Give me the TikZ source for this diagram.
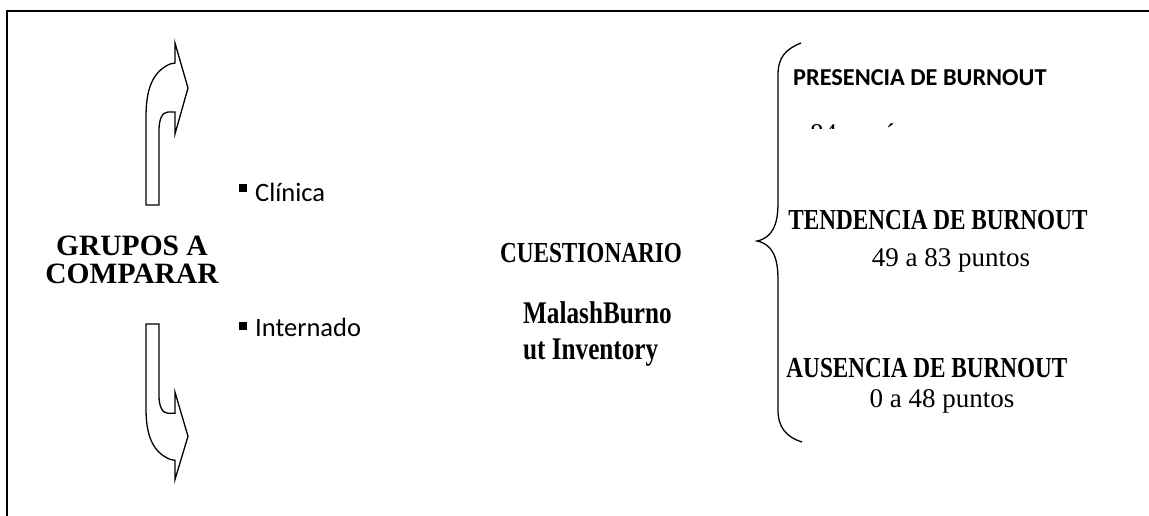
\documentclass[tikz,border=0pt]{standalone}
\usepackage{fontspec}
\setmainfont{Liberation Serif}
\newfontfamily\narrowserif[FakeStretch=0.8]{Liberation Serif}
\newfontfamily\calibrisans{Carlito}
\usetikzlibrary{positioning}

\begin{document}
\begin{tikzpicture}[x=1pt, y=1pt,
    group/.style={font=\bfseries\fontsize{29.5}{31}\selectfont, inner sep=0pt, anchor=base},
    heading/.style={font=\narrowserif\bfseries\fontsize{29}{30}\selectfont, inner sep=0pt, anchor=base},
    title/.style={font=\narrowserif\bfseries\fontsize{31.5}{33}\selectfont, inner sep=0pt, anchor=base west},
    points/.style={font=\fontsize{27}{28}\selectfont, inner sep=0pt, anchor=base},
    item/.style={font=\calibrisans\fontsize{26.5}{28}\selectfont, inner sep=0pt, anchor=base west},
    itembold/.style={font=\calibrisans\bfseries\fontsize{24.3}{26}\selectfont, inner sep=0pt, anchor=base west},
    bulletbox/.style={fill, minimum size=8pt, inner sep=0pt},
    outline/.style={draw, line width=1.3pt, line join=miter},
    bentarrow/.pic={
      \path[outline] (0,0) -- (0,88) .. controls (0,115) and (6,133) .. (24,141) -- (29,142)
        -- (29,162) -- (42,117) -- (29,71) -- (29,93) -- (22,93)
        .. controls (16,93) and (13,85) .. (13,75) -- (13,0) -- cycle;
    }]

  \useasboundingbox (0,0) rectangle (1149,515);
  \draw[line width=2pt] (7,-10) -- (7,504) -- (1160,504);

  \pic (up) at (146,310) {bentarrow};
  \pic[yscale=-0.96] (down) at (146,191) {bentarrow};

  \node[group] (grupos) at (132,259) {GRUPOS A};
  \node[group] (comparar) [below=27pt of grupos.base, anchor=base] {COMPARAR};

  \node[bulletbox] (clinicabullet) at (243,327) {};
  \node[item] (clinica) at (255,313) {Clínica};
  \node[bulletbox] (internadobullet) at (243,189) {};
  \node[item] (internado) at (255,179) {Internado};

  \node[heading] (cuest) at (591,252) {CUESTIONARIO};
  \node[title] (malash) at (523,192) {MalashBurno};
  \node[title] (inventory) [below=36pt of malash.base west, anchor=base west] {ut Inventory};

  \draw[line width=1.3pt] (801,472) .. controls (786,466) and (778,458) .. (778,440)
    -- (778,312) .. controls (778,290) and (772,277) .. (757,274)
    .. controls (772,271) and (778,258) .. (778,236)
    -- (778,105) .. controls (778,88) and (786,78) .. (802,73);

  \node[itembold] (presencia) at (793,429) {PRESENCIA DE BURNOUT};
  \begin{scope}
    \clip (795,386.5) rectangle (940,400);
    \node[points, anchor=base west] (presenciapts) at (810,372) {84 a más};
  \end{scope}

  \node[heading] (tendencia) at (938,285) {TENDENCIA DE BURNOUT};
  \node[points] (tendenciapts) at (951,248) {49 a 83 puntos};

  \node[heading] (ausencia) at (927,138) {AUSENCIA DE BURNOUT};
  \node[points] (ausenciapts) at (942,108) {0 a 48 puntos};

\end{tikzpicture}
\end{document}
